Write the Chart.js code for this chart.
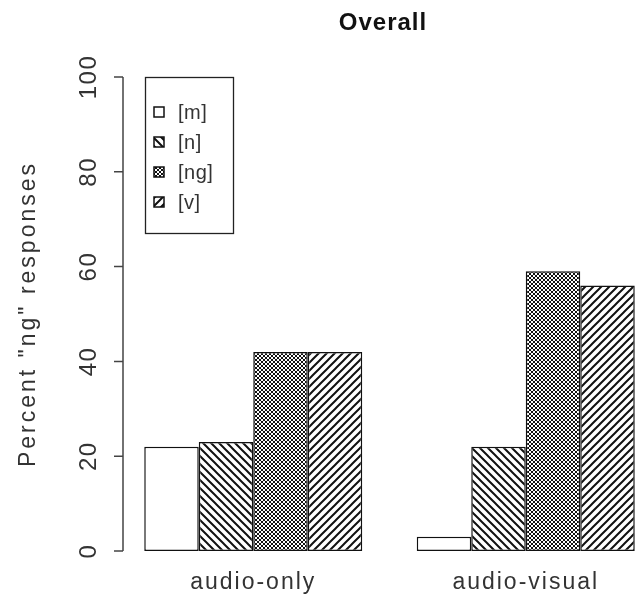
<!DOCTYPE html>
<html>
<head>
<meta charset="utf-8">
<script src="https://cdn.jsdelivr.net/npm/chart.js@4.4.1/dist/chart.umd.min.js"></script>
<style>
  html, body { margin: 0; padding: 0; background: #fff; overflow: hidden; }
  canvas { display: block; }
</style>
</head>
<body>
<canvas id="chart" width="700" height="610"></canvas>
<script>
'use strict';

// ── dados ───────────────────────────────────────────────────────────────────
const GROUPS  = ['audio-only', 'audio-visual'];
const SOUNDS  = ['[m]', '[n]', '[ng]', '[v]'];
const PCT_M   = [22, 3];
const PCT_N   = [23, 22];
const PCT_NG  = [42, 59];
const PCT_V   = [42, 56];
const Y_TICKS = [0, 20, 40, 60, 80, 100];

const TITLE   = 'Overall';
const Y_TITLE = 'Percent "ng" responses';

// ── estilo ──────────────────────────────────────────────────────────────────
const TEXT_COLOR = '#333';
const FONT = '"Liberation Sans", Arial, Helvetica, sans-serif';
const AXIS_X = 123;

// ── hachuras ────────────────────────────────────────────────────────────────
function hatch(kind) {
    const s = kind === 'cross' ? 4 : 8;
    const c = document.createElement('canvas');
    c.width = s; c.height = s;
    const g = c.getContext('2d');
    g.fillStyle = '#fff';
    g.fillRect(0, 0, s, s);
    g.strokeStyle = '#111';
    g.lineWidth = kind === 'cross' ? 1 : 2;
    const down = () => {
        g.beginPath();
        g.moveTo(-1, -1); g.lineTo(s + 1, s + 1);
        g.moveTo(-s - 1, -1); g.lineTo(1, s + 1);
        g.moveTo(s - 1, -1); g.lineTo(2 * s + 1, s + 1);
        g.stroke();
    };
    const up = () => {
        g.beginPath();
        g.moveTo(-1, s + 1); g.lineTo(s + 1, -1);
        g.moveTo(-s - 1, s + 1); g.lineTo(1, -1);
        g.moveTo(s - 1, s + 1); g.lineTo(2 * s + 1, -1);
        g.stroke();
    };
    if (kind === 'down') down();
    if (kind === 'up') up();
    if (kind === 'cross') { down(); up(); }
    return g.createPattern(c, 'repeat');
}

const FILLS = ['#fff', hatch('down'), hatch('cross'), hatch('up')];

// ── eixos, títulos e legenda (estilo R) ─────────────────────────────────────
const rStyle = {
    id: 'rStyle',
    afterDatasetsDraw(chart) {
        const { ctx, scales } = chart;
        const y = scales.y, x = scales.x;
        ctx.save();

        // eixo y
        ctx.strokeStyle = '#444';
        ctx.lineWidth = 1.5;
        ctx.beginPath();
        ctx.moveTo(AXIS_X, y.getPixelForValue(0));
        ctx.lineTo(AXIS_X, y.getPixelForValue(100));
        Y_TICKS.forEach(v => {
            const py = y.getPixelForValue(v);
            ctx.moveTo(AXIS_X - 9, py);
            ctx.lineTo(AXIS_X, py);
        });
        ctx.stroke();

        // rótulos do eixo y (girados)
        ctx.fillStyle = TEXT_COLOR;
        ctx.font = `24px ${FONT}`;
        ctx.textAlign = 'center';
        ctx.textBaseline = 'middle';
        ctx.letterSpacing = '1.5px';
        Y_TICKS.forEach(v => {
            ctx.save();
            ctx.translate(89, y.getPixelForValue(v));
            ctx.rotate(-Math.PI / 2);
            ctx.fillText(String(v), 0, 0);
            ctx.restore();
        });

        // título do eixo y
        ctx.save();
        ctx.font = `23px ${FONT}`;
        ctx.letterSpacing = '3px';
        ctx.translate(29, (y.getPixelForValue(0) + y.getPixelForValue(100)) / 2);
        ctx.rotate(-Math.PI / 2);
        ctx.fillText(Y_TITLE, 0, 0);
        ctx.restore();

        // rótulos das categorias
        ctx.font = `23px ${FONT}`;
        ctx.letterSpacing = '2px';
        GROUPS.forEach((g, i) => {
            ctx.fillText(g, x.getPixelForValue(i), 583);
        });

        // título
        ctx.fillStyle = '#111';
        ctx.font = `bold 24px ${FONT}`;
        ctx.letterSpacing = '1px';
        ctx.fillText(TITLE, 383, 23);

        // legenda
        ctx.letterSpacing = '0.5px';
        ctx.strokeStyle = '#222';
        ctx.lineWidth = 1.3;
        ctx.strokeRect(145.5, 77.5, 88, 156);
        ctx.font = `20px ${FONT}`;
        ctx.textAlign = 'left';
        chart.data.datasets.forEach((ds, i) => {
            const cy = 112 + i * 30;
            ctx.fillStyle = ds.backgroundColor;
            ctx.fillRect(154, cy - 5, 10, 10);
            ctx.strokeStyle = '#111';
            ctx.lineWidth = 1.5;
            ctx.strokeRect(154, cy - 5, 10, 10);
            ctx.fillStyle = TEXT_COLOR;
            ctx.fillText(ds.label, 178, cy + 1);
        });

        ctx.restore();
    },
};

// ── gráfico ─────────────────────────────────────────────────────────────────
const series = [PCT_M, PCT_N, PCT_NG, PCT_V];

new Chart(document.getElementById('chart'), {
    type: 'bar',
    data: {
        labels: GROUPS,
        datasets: series.map((d, i) => ({
            label: SOUNDS[i],
            data: d,
            backgroundColor: FILLS[i],
            borderColor: '#111',
            borderWidth: 1.5,
            borderSkipped: false,
            barPercentage: 1,
            categoryPercentage: 0.8,
        })),
    },
    options: {
        responsive: false,
        animation: false,
        layout: { padding: { left: 117, right: 38, top: 77, bottom: 59 } },
        plugins: {
            legend: { display: false },
            title: { display: false },
            tooltip: { enabled: false },
        },
        scales: {
            x: { display: false },
            y: { display: false, min: 0, max: 100 },
        },
    },
    plugins: [rStyle],
});
</script>
</body>
</html>
